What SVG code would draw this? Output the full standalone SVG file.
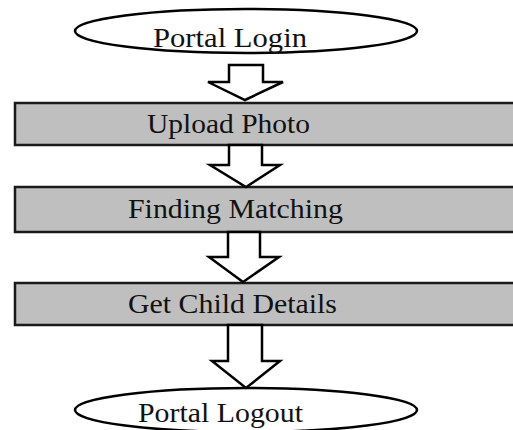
<svg xmlns="http://www.w3.org/2000/svg" width="513" height="430" viewBox="0 0 513 430">
<style>
.term{fill:#ffffff;stroke:#000;stroke-width:2.5}
.box{fill:#bfbfbf;stroke:#1a1a1a;stroke-width:2.5}
.arr{fill:#ffffff;stroke:#000;stroke-width:2.5;stroke-linejoin:miter}
.t{font-family:"Liberation Serif","Times New Roman",serif;font-size:27px;fill:#111}
</style>
<rect width="513" height="430" fill="#fff"/>
<g id="portal-login">
<ellipse class="term" cx="246" cy="31" rx="171" ry="22"/>
<text class="t" x="153" y="47" textLength="154" lengthAdjust="spacingAndGlyphs">Portal Login</text>
</g>
<g id="upload-photo">
<rect class="box" x="15" y="103" width="510" height="42"/>
<text class="t" x="147" y="133" textLength="163" lengthAdjust="spacingAndGlyphs">Upload Photo</text>
</g>
<g id="finding-matching">
<rect class="box" x="15" y="187" width="510" height="45"/>
<text class="t" x="128" y="218" textLength="215" lengthAdjust="spacingAndGlyphs">Finding Matching</text>
</g>
<g id="get-child-details">
<rect class="box" x="15" y="283" width="510" height="42"/>
<text class="t" x="128" y="313" textLength="209" lengthAdjust="spacingAndGlyphs">Get Child Details</text>
</g>
<g id="portal-logout">
<ellipse class="term" cx="246" cy="410" rx="171" ry="22"/>
<text class="t" x="138" y="422" textLength="165" lengthAdjust="spacingAndGlyphs">Portal Logout</text>
</g>
<g id="connectors">
<polygon class="arr" points="229,65 263,65 263,82 283,82 245,100 208,82 229,82"/>
<polygon class="arr" points="229,145 262,145 262,165 280,165 246,187 210,165 229,165"/>
<polygon class="arr" points="228,232 260,232 260,257 279,257 243,282 209,257 228,257"/>
<polygon class="arr" points="228,325 262,325 262,361 280,361 246,388 212,361 228,361"/>
</g>
</svg>
